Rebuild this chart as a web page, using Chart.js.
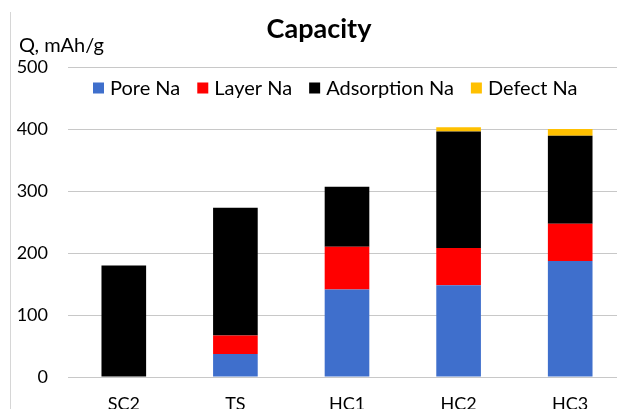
<!DOCTYPE html>
<html>
<head>
<meta charset="utf-8">
<script src="https://cdn.jsdelivr.net/npm/chart.js@4"></script>
<style>
  html, body { margin: 0; padding: 0; background: #fff; overflow: hidden; width: 617px; height: 409px; }
  #wrap { position: relative; width: 617px; height: 409px; overflow: hidden; }
  #c { position: absolute; left: 0; top: 0; }
  #frame { position: absolute; left: 10px; top: 12px; width: 1px; height: 420px; background: #d6d6d6; }
</style>
</head>
<body>
<div id="wrap">
  <canvas id="c" width="640" height="430" style="width:640px;height:430px"></canvas>
  <div id="frame"></div>
</div>
<script>
const categories = ['SC2', 'TS', 'HC1', 'HC2', 'HC3'];
const poreNa = [0, 37, 141, 148, 187];
const layerNa = [0, 30, 69, 60, 60];
const adsorptionNa = [180, 206, 97, 188, 142];
const defectNa = [0, 0, 0, 7, 11];
const seriesNames = ['Pore Na', 'Layer Na', 'Adsorption Na', 'Defect Na'];
const seriesColors = ['#3f6fcc', '#ff0000', '#000000', '#ffc000'];
const yTicks = [0, 100, 200, 300, 400, 500];
const titleText = 'Capacity';
const yLabelText = 'Q, mAh/g';

const FONT = 'Lato, "Noto Sans", sans-serif';

const overlayText = {
  id: 'overlayText',
  afterDraw(chart) {
    const ctx = chart.ctx;
    const area = chart.chartArea;
    ctx.save();
    ctx.fillStyle = '#000';
    // title
    ctx.font = 'bold 27px ' + FONT;
    ctx.textAlign = 'center';
    ctx.textBaseline = 'alphabetic';
    ctx.fillText(titleText, 319, 38);
    // y label
    ctx.font = '20px ' + FONT;
    ctx.textAlign = 'left';
    ctx.fillText(yLabelText, 19, 52);
    // legend inside plot area
    ctx.font = '20px ' + FONT;
    ctx.textBaseline = 'middle';
    let x = area.left + 25;
    const yc = area.top + 21;
    const box = 11;
    chart.data.datasets.forEach(ds => {
      ctx.fillStyle = ds.backgroundColor;
      ctx.fillRect(x, yc - box / 2, box, box);
      x += box + 6;
      ctx.fillStyle = '#000';
      ctx.fillText(ds.label, x, yc + 1);
      x += ctx.measureText(ds.label).width + 17;
    });
    ctx.restore();
  }
};

const values = [poreNa, layerNa, adsorptionNa, defectNa];
new Chart(document.getElementById('c'), {
  type: 'bar',
  data: {
    labels: categories,
    datasets: seriesNames.map((name, i) => ({
      label: name,
      data: values[i],
      backgroundColor: seriesColors[i],
      borderWidth: 0,
      barPercentage: 0.4,
      categoryPercentage: 1.0
    }))
  },
  options: {
    responsive: false,
    devicePixelRatio: 1,
    animation: false,
    layout: { padding: { top: 67, left: 0, right: 14, bottom: 0 } },
    plugins: {
      legend: { display: false },
      title: { display: false },
      tooltip: { enabled: false }
    },
    scales: {
      x: {
        stacked: true,
        grid: { display: false, drawTicks: false },
        border: { display: false },
        ticks: { color: '#000', font: { family: FONT, size: 18 }, padding: 16 },
        afterFit(scale) { scale.height = 53; }
      },
      y: {
        stacked: true,
        min: 0,
        max: 500,
        afterBuildTicks(scale) { scale.ticks = yTicks.map(v => ({ value: v })); },
        grid: { color: '#c8c8c8', lineWidth: 1, drawTicks: false },
        border: { display: false },
        ticks: { color: '#000', font: { family: FONT, size: 18 }, padding: 20 },
        afterFit(scale) { scale.width = 68; }
      }
    }
  },
  plugins: [overlayText]
});
</script>
</body>
</html>
